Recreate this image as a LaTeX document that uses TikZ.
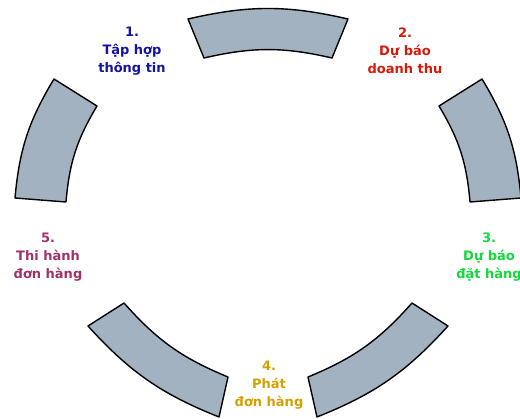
\documentclass[tikz,border=0pt]{standalone}
\usepackage{fontspec}
\setsansfont{DejaVu Sans}
\usepackage{tikz}
\usetikzlibrary{calc, positioning}
\usepackage{xcolor}
\definecolor{colSeg}{RGB}{163, 178, 193}
\definecolor{colThongTin}{RGB}{20, 20, 160}
\definecolor{colDoanhThu}{RGB}{215, 25, 10}
\definecolor{colDatHang}{RGB}{20, 215, 60}
\definecolor{colPhat}{RGB}{212, 160, 0}
\definecolor{colThiHanh}{RGB}{160, 50, 105}

\begin{document}
\begin{tikzpicture}[
    x=1pt, y=-1pt,
    font=\sffamily\bfseries\fontsize{13}{18}\selectfont,
    seg_style/.style={draw=black, fill=colSeg, line width=1.4pt,
      line join=round},
    out_arc/.style={bend left=13},
    in_arc/.style={bend right=13},
    lab_style/.style={align=center, inner sep=0pt}
]
    \useasboundingbox (0,0) rectangle (520,419);

    % --- Segments de l'anneau ---
    % haut
    \draw[seg_style] (188,19) to[out_arc] (348,19) -- (332,58)
        to[in_arc] (204,58) -- cycle;
    % droite
    \draw[seg_style] (482,79) to[out_arc] (521,198) -- (470,202)
        to[in_arc] (439,106) -- cycle;
    % bas droite
    \draw[seg_style] (448,326) to[out_arc] (317,417) -- (308,377)
        to[in_arc] (412,303) -- cycle;
    % bas gauche
    \draw[seg_style] (219,417) to[out_arc] (88,326) -- (124,303)
        to[in_arc] (228,377) -- cycle;
    % gauche
    \draw[seg_style] (15,198) to[out_arc] (54,79) -- (97,106)
        to[in_arc] (66,202) -- cycle;

    % --- Étapes ---
    \node[lab_style, text=colThongTin] (lab1) at (132,51)
        {1.\\Tập hợp\\thông tin};
    \node[lab_style, text=colDoanhThu] (lab2) at (405,51)
        {2.\\Dự báo\\doanh thu};
    \node[lab_style, text=colDatHang] (lab3) at (489,257)
        {3.\\Dự báo\\đặt hàng};
    \node[lab_style, text=colPhat] (lab4) at (269,385)
        {4.\\Phát\\đơn hàng};
    \node[lab_style, text=colThiHanh] (lab5) at (48,257)
        {5.\\Thi hành\\đơn hàng};

\end{tikzpicture}
\end{document}
